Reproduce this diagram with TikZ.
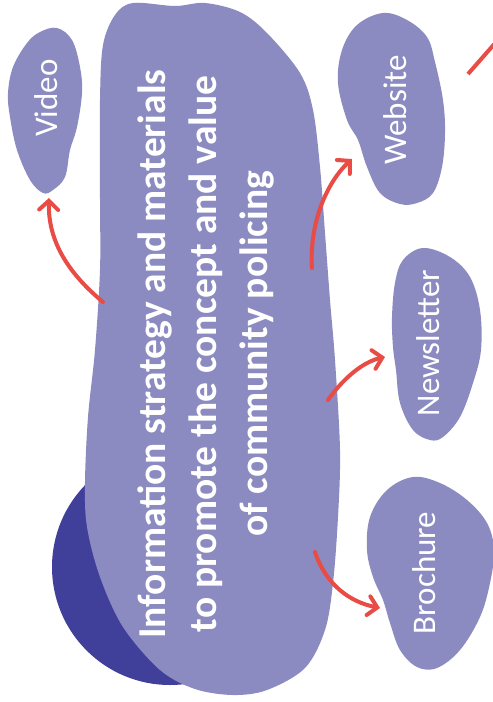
\documentclass[tikz,border=0pt]{standalone}
\usepackage{fontspec}
\setmainfont{Carlito}
\usetikzlibrary{arrows.meta}
\definecolor{blob}{RGB}{139,139,193}
\definecolor{darkc}{RGB}{64,64,155}
\definecolor{arrred}{RGB}{233,75,69}
\tikzset{
  blobshape/.style={fill=blob, draw=none},
  lbl/.style={text=white, rotate=90, inner sep=0pt, font=\fontsize{33}{40}\selectfont},
  conn/.style={draw=arrred, line width=4pt, line cap=round, -{Straight Barb[length=9pt,width=19pt,line cap=round]}},
}
\begin{document}
\begin{tikzpicture}[x=1pt,y=-1pt]
\useasboundingbox (0,0) rectangle (493,702);
\fill[white] (0,0) rectangle (493,702);
% dark circle
\fill[darkc] (170,567) circle (118);
% main blob
\path[blobshape] plot[smooth cycle, tension=0.55] coordinates {
 (133,3) (175,6) (205,3) (240,12) (267,33) (300,73) (313,110) (320,167) (325,233) (330,300)
 (335,360) (340,450) (338,517) (333,583) (325,630) (305,668) (267,690) (233,695) (195,689)
 (160,670) (123,627) (100,577) (87,527) (85,483) (88,417) (95,350) (100,270) (100,200)
 (100,100) (103,45) (115,15)};
% video blob
\path[blobshape] plot[smooth cycle, tension=0.6] coordinates {
 (57,28) (72,40) (80,67) (82,93) (77,127) (70,150) (65,177) (53,190) (43,193) (30,180)
 (17,150) (10,117) (8,93) (13,67) (27,43) (40,32)};
% website blob
\path[blobshape] plot[smooth cycle, tension=0.6] coordinates {
 (383,13) (407,20) (427,37) (435,62) (443,100) (445,133) (442,167) (433,193) (417,203)
 (400,204) (380,193) (367,167) (358,140) (347,120) (338,83) (342,50) (357,25)};
% newsletter blob
\path[blobshape] plot[smooth cycle, tension=0.6] coordinates {
 (423,248) (450,257) (470,277) (480,310) (481,350) (473,383) (460,417) (443,437) (430,440)
 (413,430) (400,403) (396,370) (393,347) (392,317) (395,283) (403,260)};
% brochure blob
\path[blobshape] plot[smooth cycle, tension=0.6] coordinates {
 (413,477) (440,483) (467,500) (487,523) (494,550) (490,583) (480,617) (460,650) (437,668)
 (417,667) (400,650) (390,623) (383,600) (373,577) (367,550) (370,517) (387,490)};
% texts
\node[text=white, rotate=90, align=center, inner sep=0pt,
      font=\fontsize{39.5}{51}\selectfont\bfseries] (title) at (206,354)
  {Information strategy and materials\\to promote the concept and value\\of community policing};
\node[lbl] (video) at (46.5,98) {Video};
\node[lbl] (website) at (395.5,110) {Website};
\node[lbl] (newsletter) at (428.5,343) {Newsletter};
\node[lbl] (brochure) at (424,573) {Brochure};
% connector end points
\coordinate (vS) at (103,302);  \coordinate (vE) at (49,198);
\coordinate (wS) at (312,268);  \coordinate (wE) at (352,159);
\coordinate (nS) at (328,400);  \coordinate (nE) at (385,357);
\coordinate (bS) at (315,552);  \coordinate (bE) at (380,608);
\coordinate (s1) at (468,74);   \coordinate (s2) at (497,41);
\draw[conn] (vS) .. controls (62,268) and (48,235) .. (vE);
\draw[conn] (wS) .. controls (309,225) and (326,183) .. (wE);
\draw[conn] (nS) .. controls (342,380) and (362,362) .. (nE);
\draw[conn] (bS) .. controls (326,585) and (350,602) .. (bE);
\draw[draw=arrred, line width=4pt] (s1) -- (s2);
\end{tikzpicture}
\end{document}
